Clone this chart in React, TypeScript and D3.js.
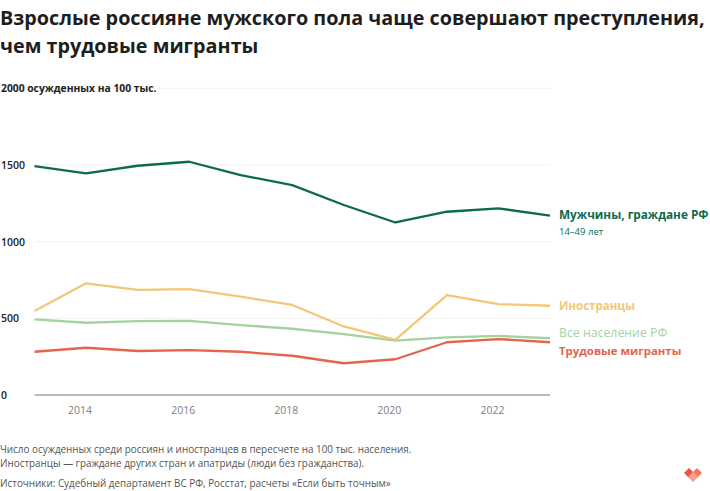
import React, { useRef, useEffect } from 'react';
import * as d3 from 'd3';

const years = [2013, 2014, 2015, 2016, 2017, 2018, 2019, 2020, 2021, 2022, 2023];
const menRF = [1493, 1445, 1495, 1521, 1434, 1369, 1239, 1125, 1195, 1217, 1169];
const foreigners = [548, 728, 685, 691, 641, 587, 447, 360, 652, 593, 582];
const allPopulation = [493, 471, 482, 484, 456, 432, 397, 354, 376, 385, 370];
const laborMigrants = [282, 308, 287, 292, 282, 256, 207, 233, 344, 365, 344];

const yTicks = [0, 500, 1000, 1500, 2000];
const xTicks = [2014, 2016, 2018, 2020, 2022];

const titleLines = [
    'Взрослые россияне мужского пола чаще совершают преступления,',
    'чем трудовые мигранты',
];
const noteLines = [
    'Число осужденных среди россиян и иностранцев в пересчете на 100 тыс. населения.',
    'Иностранцы — граждане других стран и апатриды (люди без гражданства).',
];
const sourceLine = 'Источники: Судебный департамент ВС РФ, Росстат, расчеты «Если быть точным»';

interface Series {
    name: string;
    values: number[];
    color: string;
    labelY: number;
    bold: boolean;
    size: number;
}

const series: Series[] = [
    { name: 'Все население РФ', values: allPopulation, color: '#a3d39e', labelY: 337, bold: false, size: 12.3 },
    { name: 'Трудовые мигранты', values: laborMigrants, color: '#e3654b', labelY: 355, bold: true, size: 11.4 },
    { name: 'Иностранцы', values: foreigners, color: '#f2c878', labelY: 310, bold: true, size: 11.5 },
    { name: 'Мужчины, граждане РФ', values: menRF, color: '#0b6a4f', labelY: 219, bold: true, size: 11.8 },
];

const FONT = '"Open Sans", Lato, sans-serif';

export default function App() {
    const svgRef = useRef<SVGSVGElement>(null);
    const width = 710;
    const height = 491;

    useEffect(() => {
        if (!svgRef.current) return;
        const svg = d3.select(svgRef.current);
        svg.selectAll('*').remove();

        const x = d3.scaleLinear().domain([2013, 2023]).range([34.5, 550]);
        const y = d3.scaleLinear().domain([0, 2000]).range([395, 88.3]);

        svg.append('rect').attr('width', width).attr('height', height).attr('fill', '#fff');

        // Title
        svg.append('g')
            .selectAll('text')
            .data(titleLines)
            .join('text')
            .attr('x', 0)
            .attr('y', (_, i) => 25 + i * 28)
            .attr('font-family', FONT)
            .attr('font-weight', 700)
            .attr('font-size', 19.8)
            .attr('fill', '#1e1e1e')
            .text(d => d);

        // Grid
        svg.append('g')
            .selectAll('line')
            .data(yTicks.filter(t => t > 0))
            .join('line')
            .attr('x1', x(2013))
            .attr('x2', x(2023))
            .attr('y1', d => y(d))
            .attr('y2', d => y(d))
            .attr('stroke', '#f0f0f0')
            .attr('stroke-width', 1);

        // Y labels
        svg.append('g')
            .selectAll('text')
            .data(yTicks)
            .join('text')
            .attr('x', 1)
            .attr('y', d => y(d) + 4)
            .attr('font-family', FONT)
            .attr('font-weight', d => (d === 2000 ? 700 : 600))
            .attr('font-size', d => (d === 2000 ? 10.3 : 10.5))
            .attr('fill', '#222')
            .text(d => (d === 2000 ? `${d} осужденных на 100 тыс.` : `${d}`));

        // X axis line
        svg.append('line')
            .attr('x1', x(2013))
            .attr('x2', x(2023))
            .attr('y1', y(0))
            .attr('y2', y(0))
            .attr('stroke', '#777')
            .attr('stroke-width', 1);

        svg.append('g')
            .selectAll('text')
            .data(xTicks)
            .join('text')
            .attr('x', d => x(d) - 6)
            .attr('y', 414)
            .attr('text-anchor', 'middle')
            .attr('font-family', FONT)
            .attr('font-size', 10.5)
            .attr('fill', '#808080')
            .text(d => d);

        // Lines
        const line = d3.line<number>()
            .x((_, i) => x(years[i]))
            .y(d => y(d));

        series.forEach(s => {
            svg.append('path')
                .datum(s.values)
                .attr('fill', 'none')
                .attr('stroke', s.color)
                .attr('stroke-width', 2.3)
                .attr('stroke-linejoin', 'round')
                .attr('d', line);

            svg.append('text')
                .attr('x', 559)
                .attr('y', s.labelY)
                .attr('font-family', FONT)
                .attr('font-weight', s.bold ? 700 : 500)
                .attr('font-size', s.size)
                .attr('fill', s.color)
                .text(s.name);
        });

        svg.append('text')
            .attr('x', 559)
            .attr('y', 235)
            .attr('font-family', FONT)
            .attr('font-size', 9.5)
            .attr('fill', '#0b6a4f')
            .text('14–49 лет');

        // Notes
        svg.append('g')
            .selectAll('text')
            .data(noteLines)
            .join('text')
            .attr('x', 0)
            .attr('y', (_, i) => 453 + i * 14)
            .attr('font-family', FONT)
            .attr('font-size', 9.9)
            .attr('fill', '#555')
            .text(d => d);

        svg.append('text')
            .attr('x', 0)
            .attr('y', 487)
            .attr('font-family', FONT)
            .attr('font-size', 9.9)
            .attr('fill', '#555')
            .text(sourceLine);

        // Logo
        const logo = svg.append('g').attr('transform', 'translate(684,468)');
        logo.append('path').attr('d', 'M0,5 L5,0 L10,5 L5,10 Z').attr('fill', '#e9553f');
        logo.append('path').attr('d', 'M8,5 L13,0 L18,5 L13,10 Z').attr('fill', '#f07b5f');
        logo.append('path').attr('d', 'M4,9 L9,4 L14,9 L9,14 Z').attr('fill', '#f5a08a');
    }, []);

    return (
        <svg
            ref={svgRef}
            width={width}
            height={height}
            viewBox={`0 0 ${width} ${height}`}
            style={{ position: 'absolute', left: 0, top: 0 }}
        />
    );
}
